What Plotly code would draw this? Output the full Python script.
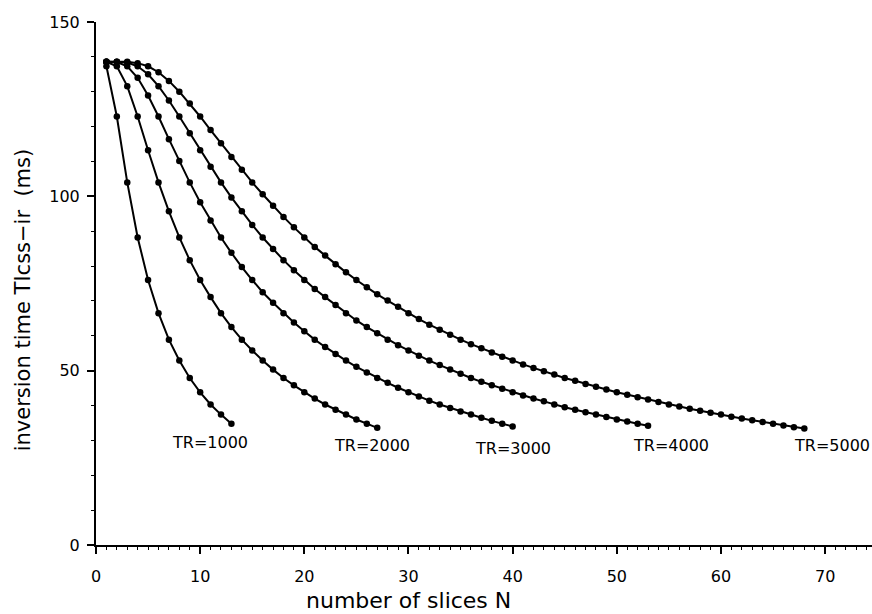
import plotly.graph_objects as go

# Inversion time TIcss-ir (ms) versus number of slices N, for each TR (ms)
tr_labels = ["TR=1000", "TR=2000", "TR=3000", "TR=4000", "TR=5000"]

ti_tr1000 = [137.3, 122.9, 104.0, 88.2, 76.0, 66.5, 58.9, 52.9, 47.9, 43.8,
             40.3, 37.4, 34.8]

ti_tr2000 = [138.6, 137.3, 131.6, 122.9, 113.2, 104.0, 95.7, 88.2, 81.7, 76.0,
             71.1, 66.5, 62.5, 58.9, 55.8, 52.9, 50.3, 47.9, 45.8, 43.8,
             42.0, 40.3, 38.8, 37.4, 36.0, 34.8, 33.6]

ti_tr3000 = [138.6, 138.5, 137.3, 134.0, 128.9, 122.9, 116.4, 110.1, 104.0, 98.3,
             93.1, 88.2, 83.8, 79.7, 76.0, 72.5, 69.5, 66.5, 63.8, 61.3,
             58.9, 56.8, 54.8, 52.9, 51.1, 49.5, 47.9, 46.5, 45.1, 43.8,
             42.6, 41.4, 40.3, 39.3, 38.3, 37.4, 36.5, 35.6, 34.8, 34.0]

ti_tr4000 = [138.6, 138.6, 138.4, 137.3, 135.0, 131.6, 127.5, 122.9, 118.1, 113.2,
             108.5, 104.0, 99.7, 95.7, 91.8, 88.2, 84.9, 81.7, 78.8, 76.0,
             73.4, 71.1, 68.8, 66.5, 64.4, 62.5, 60.7, 58.9, 57.3, 55.8,
             54.3, 52.9, 51.6, 50.3, 49.1, 47.9, 46.8, 45.8, 44.8, 43.8,
             42.9, 42.0, 41.2, 40.3, 39.5, 38.8, 38.1, 37.4, 36.7, 36.0,
             35.4, 34.8, 34.2]

ti_tr5000 = [138.6, 138.6, 138.6, 138.2, 137.3, 135.6, 133.1, 130.0, 126.6, 122.9,
             119.0, 115.2, 111.3, 107.6, 104.0, 100.6, 97.3, 94.1, 91.1, 88.2,
             85.5, 83.0, 80.5, 78.2, 76.0, 73.9, 71.9, 70.1, 68.3, 66.5,
             64.8, 63.2, 61.7, 60.3, 58.9, 57.6, 56.4, 55.2, 54.0, 52.9,
             51.8, 50.8, 49.8, 48.9, 47.9, 47.1, 46.2, 45.4, 44.6, 43.8,
             43.1, 42.4, 41.7, 41.0, 40.3, 39.7, 39.1, 38.5, 37.9, 37.4,
             36.8, 36.3, 35.8, 35.3, 34.8, 34.3, 33.8, 33.4]

series = [ti_tr1000, ti_tr2000, ti_tr3000, ti_tr4000, ti_tr5000]

# label anchor positions in data units (x, y)
label_pos = [(10.9, 29.5), (26.5, 28.4), (40.0, 27.8), (55.2, 28.4), (70.7, 28.4)]

FONT = "DejaVu Sans"
fig = go.Figure()
for name, vals in zip(tr_labels, series):
    n = list(range(1, len(vals) + 1))
    fig.add_trace(go.Scatter(
        x=n, y=vals, mode="lines+markers", name=name,
        line=dict(color="black", width=2),
        marker=dict(color="black", size=6.5, symbol="circle"),
        showlegend=False,
    ))

annotations = []
for name, (lx, ly) in zip(tr_labels, label_pos):
    annotations.append(dict(x=lx, y=ly, xref="x", yref="y", text=name,
                            showarrow=False, xanchor="center", yanchor="middle",
                            font=dict(family=FONT, size=16, color="black")))
annotations.append(dict(x=0.403, y=-0.106, xref="paper", yref="paper",
                        text="number of slices N", showarrow=False,
                        xanchor="center", yanchor="middle",
                        font=dict(family=FONT, size=22, color="black")))
annotations.append(dict(x=-0.094, y=0.468, xref="paper", yref="paper",
                        text="inversion time TIcss\u2212ir\u00a0\u00a0(ms)",
                        showarrow=False, textangle=-90,
                        xanchor="center", yanchor="middle",
                        font=dict(family=FONT, size=21, color="black")))

fig.update_layout(
    width=872, height=614,
    margin=dict(l=96, r=0, t=22, b=69),
    paper_bgcolor="white", plot_bgcolor="white",
    font=dict(family=FONT, size=16, color="black"),
    annotations=annotations,
    xaxis=dict(range=[0, 74.5], tickmode="array", tickvals=[0, 10, 20, 30, 40, 50, 60, 70],
               showgrid=False, zeroline=False, showline=True, linecolor="black",
               linewidth=2, ticks="outside", ticklen=7, tickwidth=1.5, tickcolor="black",
               ticklabelstandoff=9,
               tickfont=dict(family=FONT, size=16, color="black"),
               minor=dict(dtick=1, ticks="outside", ticklen=3, tickwidth=1.2,
                          tickcolor="black", showgrid=False)),
    yaxis=dict(range=[0, 150], tickmode="array", tickvals=[0, 50, 100, 150],
               showgrid=False, zeroline=False, showline=True, linecolor="black",
               linewidth=2, ticks="outside", ticklen=7, tickwidth=1.5, tickcolor="black",
               ticklabelstandoff=4,
               tickfont=dict(family=FONT, size=16, color="black"),
               minor=dict(dtick=10, ticks="outside", ticklen=3, tickwidth=1.2,
                          tickcolor="black", showgrid=False)),
)

fig.write_html("out.html")
